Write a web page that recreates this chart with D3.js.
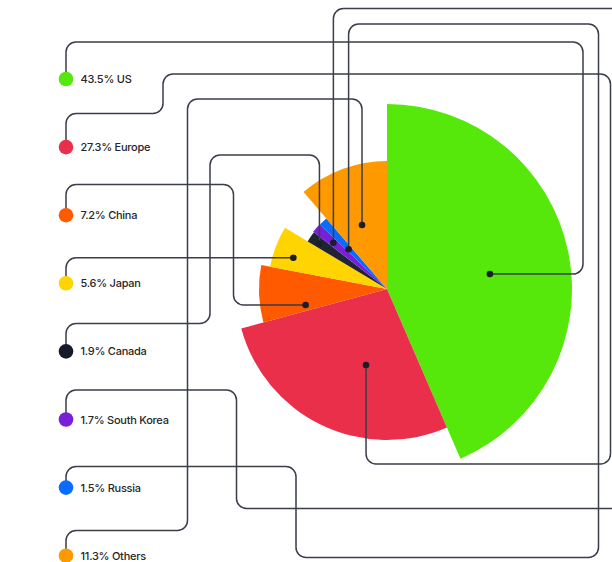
<!DOCTYPE html>
<html>
<head>
<meta charset="utf-8">
<script src="https://cdn.jsdelivr.net/npm/d3@7"></script>
<style>
  html, body { margin: 0; padding: 0; background: #ffffff; }
  svg { display: block; }
</style>
</head>
<body>
<svg id="chart" width="612" height="562"></svg>
<script>
// Market share by region, each slice pushed out to its own radius
const categories = ["US", "Europe", "China", "Japan", "Canada", "South Korea", "Russia", "Others"];
const shares = [43.5, 27.3, 7.2, 5.6, 1.9, 1.7, 1.5, 11.3];
// relative reach index (100 = largest) that sets each slice's radius
const reach = [100, 81.6, 69.2, 64.3, 50.0, 50.5, 50.3, 69.2];

const palette = ["#55e80a", "#ea2f4b", "#ff5a00", "#ffd400", "#1d2533", "#7a1fd8", "#0a6cff", "#ff9900"];
const legendDotColors = ["#55e80a", "#ea2f4b", "#ff5a00", "#ffd400", "#161a28", "#7a1fd8", "#0a6cff", "#ff9900"];

const width = 612, height = 562;
const cx = 387, cy = 289;

const svg = d3.select("#chart");

const rows = categories.map((c, i) => ({ name: c, share: shares[i], reach: reach[i], i }));

const radius = d3.scaleLinear().domain([0, 100]).range([0, 185]);
const legendY = d3.scalePoint().domain(categories).range([79, 555.7]);
const legendX = 66;

const pie = d3.pie().value(d => d.share).sort(null);
const arcs = pie(rows);
const arc = d3.arc().innerRadius(0).outerRadius(d => radius(d.data.reach));

// slices
const gPie = svg.append("g").attr("transform", `translate(${cx},${cy})`);
gPie.selectAll("path")
  .data(arcs)
  .join("path")
  .attr("d", arc)
  .attr("fill", d => palette[d.data.i]);

// where each leader line attaches inside its slice: t = position across the
// slice's sweep, k = fraction of the slice radius
const anchors = [
  { t: 0.522, k: 0.562 },
  { t: 0.395, k: 0.522 },
  { t: 0.155, k: 0.648 },
  { t: 0.38,  k: 0.83 },
  { t: 0.43,  k: 0.88 },
  { t: 0.49,  k: 0.758 },
  { t: 0.385, k: 0.594 },
  { t: 0.476, k: 0.537 }
];

const ends = arcs.map((a, i) => {
  const ang = a.startAngle + anchors[i].t * (a.endAngle - a.startAngle);
  const r = anchors[i].k * radius(a.data.reach);
  return [cx + r * Math.sin(ang), cy - r * Math.cos(ang)];
});

// orthogonal routes from legend dot to slice anchor, drawn with rounded corners
function route(i) {
  const lx = legendX, ly = legendY(categories[i]);
  const [ex, ey] = ends[i];
  switch (i) {
    case 0: return [[lx, ly], [lx, 42], [583, 42], [583, ey], [ex, ey]];
    case 1: return [[lx, ly], [lx, 113.5], [163, 113.5], [163, 74], [610.5, 74], [610.5, 464], [ex, 464], [ex, ey]];
    case 2: return [[lx, ly], [lx, 184.5], [233.5, 184.5], [233.5, ey], [ex, ey]];
    case 3: return [[lx, ly], [lx, ey], [ex, ey]];
    case 4: return [[lx, ly], [lx, 323.5], [210, 323.5], [210, 155], [ex, 155], [ex, ey]];
    case 5: return [[lx, ly], [lx, 390], [236.5, 390], [236.5, 508.5], [630, 508.5], [630, 8.5], [ex, 8.5], [ex, ey]];
    case 6: return [[lx, ly], [lx, 466.5], [296, 466.5], [296, 557.5], [598.5, 557.5], [598.5, 24], [ex, 24], [ex, ey]];
    case 7: return [[lx, ly], [lx, 530.5], [187.5, 530.5], [187.5, 99], [ex, 99], [ex, ey]];
  }
}

function roundedPath(pts, rad) {
  const p = d3.path();
  p.moveTo(pts[0][0], pts[0][1]);
  for (let k = 1; k < pts.length - 1; k++) {
    const a = pts[k - 1], b = pts[k], c = pts[k + 1];
    const l1 = Math.hypot(b[0] - a[0], b[1] - a[1]);
    const l2 = Math.hypot(c[0] - b[0], c[1] - b[1]);
    const r = Math.min(rad, l1 / 2, l2 / 2);
    p.arcTo(b[0], b[1], c[0], c[1], r);
  }
  const last = pts[pts.length - 1];
  p.lineTo(last[0], last[1]);
  return p.toString();
}

const gLines = svg.append("g");
gLines.selectAll("path")
  .data(rows)
  .join("path")
  .attr("d", d => roundedPath(route(d.i), 10))
  .attr("fill", "none")
  .attr("stroke", "#3a3d4a")
  .attr("stroke-width", 1.5);

// anchor dots inside the slices
svg.append("g").selectAll("circle")
  .data(ends)
  .join("circle")
  .attr("cx", d => d[0])
  .attr("cy", d => d[1])
  .attr("r", 3.3)
  .attr("fill", "#1b1e2a");

// legend
const gLegend = svg.append("g");
const item = gLegend.selectAll("g")
  .data(rows)
  .join("g")
  .attr("transform", d => `translate(${legendX},${legendY(d.name)})`);

item.append("circle")
  .attr("r", 7.3)
  .attr("fill", d => legendDotColors[d.i]);

item.append("text")
  .attr("x", 14.5)
  .attr("y", 4)
  .attr("font-family", "Inter, 'Noto Sans', sans-serif")
  .attr("font-size", 11)
  .attr("font-weight", 500)
  .attr("letter-spacing", "-0.25px")
  .attr("fill", "#26262b")
  .text(d => `${d.share.toFixed(1)}% ${d.name}`);
</script>
</body>
</html>
